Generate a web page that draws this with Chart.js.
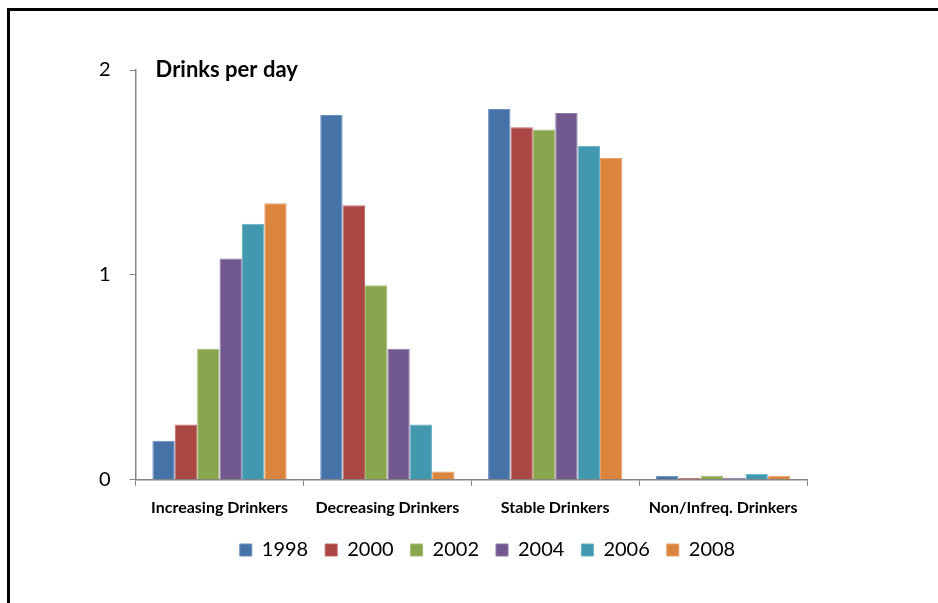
<!DOCTYPE html>
<html>
<head>
<meta charset="utf-8">
<script src="https://cdn.jsdelivr.net/npm/chart.js@4"></script>
<style>
  html, body { margin: 0; padding: 0; background: #fff; overflow: hidden; }
  #wrap { position: absolute; left: 0; top: 0; width: 938px; height: 603px; }
  #frame { position: absolute; left: 7px; top: 8px; width: 1000px; height: 1000px; border: 3px solid #000; box-sizing: border-box; }
  canvas { position: absolute; left: 0; top: 0; }
</style>
</head>
<body>
<div id="wrap">
  <div id="frame"></div>
  <canvas id="c" width="938" height="603"></canvas>
</div>
<script>
// Drinker groups along the x axis
const categories = ['Increasing Drinkers', 'Decreasing Drinkers', 'Stable Drinkers', 'Non/Infreq. Drinkers'];
// Survey years, one bar series each
const years = ['1998', '2000', '2002', '2004', '2006', '2008'];
// Mean drinks per day by group, per year
const v1998 = [0.19, 1.78, 1.81, 0.02];
const v2000 = [0.27, 1.34, 1.72, 0.01];
const v2002 = [0.64, 0.95, 1.71, 0.02];
const v2004 = [1.08, 0.64, 1.79, 0.01];
const v2006 = [1.25, 0.27, 1.63, 0.03];
const v2008 = [1.35, 0.04, 1.57, 0.02];
// Y axis tick values
const yTicks = [0, 1, 2];
const yTitle = 'Drinks per day';

const seriesValues = [v1998, v2000, v2002, v2004, v2006, v2008];
const colors = ['#4572A7', '#AA4643', '#89A54E', '#71588F', '#4198AF', '#DB843D'];
const edges  = ['#6A8FBF', '#C06A67', '#A3BC70', '#8C77A8', '#67B1C5', '#E7A06A'];

const FONT = 'Lato, "Open Sans", sans-serif';

// Bold caption drawn in the upper-left corner of the plot area
const cornerTitle = {
  id: 'cornerTitle',
  afterDraw(chart) {
    const { ctx, chartArea, scales } = chart;
    ctx.save();
    ctx.font = 'bold 22px ' + FONT;
    ctx.fillStyle = '#000';
    ctx.textBaseline = 'middle';
    ctx.textAlign = 'left';
    ctx.fillText(yTitle, chartArea.left + 20, scales.y.getPixelForValue(2));
    ctx.restore();
  }
};

// Nudge the legend row right of the canvas centre and slightly up
const legendShift = {
  id: 'legendShift',
  afterLayout(chart) {
    const lg = chart.legend;
    if (lg) { lg.left += 44; lg.right += 44; lg.top -= 6; lg.bottom -= 6; }
  }
};

new Chart(document.getElementById('c'), {
  type: 'bar',
  data: {
    labels: categories,
    datasets: years.map((y, i) => ({
      label: y,
      data: seriesValues[i],
      backgroundColor: colors[i],
      borderColor: edges[i],
      borderWidth: 1,
      categoryPercentage: 0.8,
      barPercentage: 1.0
    }))
  },
  options: {
    responsive: false,
    animation: false,
    devicePixelRatio: 1,
    layout: { padding: { left: 80, right: 131, top: 70, bottom: 27 } },
    plugins: {
      legend: {
        position: 'bottom',
        labels: {
          font: { family: FONT, size: 20 },
          color: '#000',
          boxWidth: 12,
          boxHeight: 12,
          padding: 17
        }
      },
      tooltip: { enabled: false }
    },
    scales: {
      x: {
        grid: { drawOnChartArea: false, drawTicks: true, tickLength: 6, color: '#868686' },
        border: { color: '#868686', width: 1.5 },
        ticks: { font: { family: FONT, size: 16, weight: 'bold' }, color: '#000', padding: 12, maxRotation: 0 }
      },
      y: {
        min: 0,
        max: 2,
        afterBuildTicks(scale) { scale.ticks = yTicks.map(v => ({ value: v })); },
        grid: { drawOnChartArea: false, drawTicks: true, tickLength: 6, color: '#868686' },
        border: { color: '#868686', width: 1.5 },
        ticks: { font: { family: FONT, size: 20 }, color: '#000', padding: 19 }
      }
    }
  },
  plugins: [cornerTitle, legendShift]
});
</script>
</body>
</html>
